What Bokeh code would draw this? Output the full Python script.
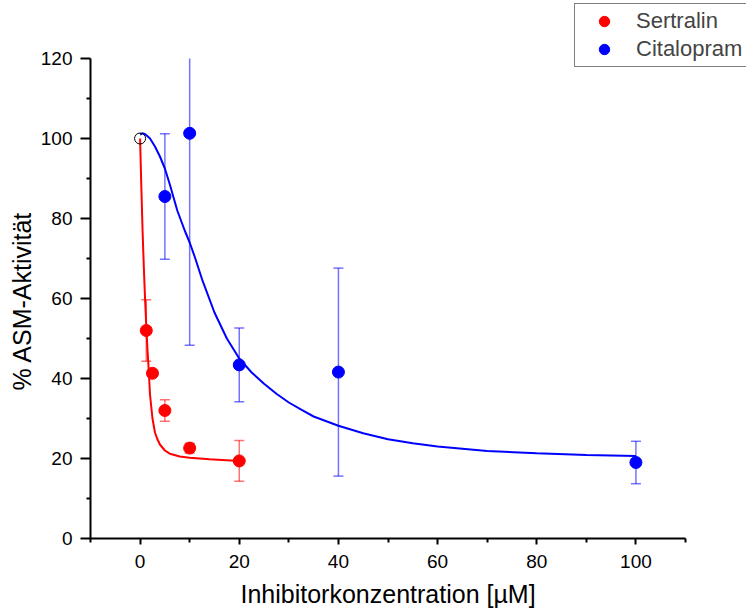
from bokeh.plotting import figure
from bokeh.models import Range1d, FixedTicker, Legend, LegendItem, Title
from bokeh.embed import file_html
from bokeh.resources import INLINE

# ---- data ----
sert_x = [1.25, 2.5, 5, 10, 20]
sert_y = [52.0, 41.3, 32.0, 22.6, 19.4]
sert_err = [7.7, 0.8, 2.7, 1.2, 5.1]

cit_x = [5, 10, 20, 40, 100]
cit_y = [85.5, 101.3, 43.4, 41.6, 19.0]
cit_err = [15.7, 53.0, 9.2, 26.0, 5.3]

ctrl_x = [0]
ctrl_y = [100]

# fitted curves
sert_fit_x = [0, 0.25, 0.5, 0.75, 1.0, 1.25, 1.5, 1.75, 2.0, 2.5, 3.0, 3.5, 4.0, 5.0, 6.0, 8.0, 10.0, 14.0, 20.0]
sert_fit_y = [100, 88, 77, 68, 60, 53, 47, 42, 36, 30, 26.5, 24.8, 23.5, 22.0, 21.2, 20.5, 20.2, 19.8, 19.4]

cit_fit_x = [0, 0.5, 1, 2, 3, 4, 5, 6, 7.5, 9, 10, 11, 12.5, 15, 17.5, 20, 22.5, 25, 27.5, 30, 32.5,
             35, 40, 45, 50, 55, 60, 70, 80, 90, 100]
cit_fit_y = [101.0, 101.3, 101.1, 100.0, 98.0, 95.5, 92.5, 88.5, 82.0, 77.0, 74.0, 70.5, 64.8, 56.5,
             50.0, 45.0, 41.5, 38.7, 36.2, 34.0, 32.2, 30.5, 28.2, 26.3, 24.8, 23.8, 23.0, 21.9,
             21.3, 20.9, 20.6]

x_axis_span = (-10, 110)
y_axis_span = (0, 120)
x_major = [0, 20, 40, 60, 80, 100]
x_minor = [-10, 10, 30, 50, 70, 90, 110]
y_major = [0, 20, 40, 60, 80, 100, 120]
y_minor = [10, 30, 50, 70, 90, 110]

x_title = "Inhibitorkonzentration [µM]"
y_title = "% ASM-Aktivität"

FONT = "Liberation Sans"
RED = "#ff0000"
BLUE = "#0000ff"

# frame reaches the top/right canvas edges so the legend can sit there;
# the axes are bounded to the reference's spans
p = figure(width=746, height=614, x_range=Range1d(-10, 122.3), y_range=Range1d(0, 134.5),
           output_backend="svg", toolbar_location=None, min_border=0,
           min_border_left=90, min_border_right=0, min_border_top=0, min_border_bottom=76)
p.outline_line_color = None
p.grid.visible = False
p.background_fill_color = "white"
p.border_fill_color = "white"

# curves
p.line(sert_fit_x, sert_fit_y, line_color=RED, line_width=2)
p.line(cit_fit_x, cit_fit_y, line_color=BLUE, line_width=2)

# error bars (clipped at the top of the value axis, as in the reference)
ytop = y_axis_span[1]
def errbars(xs, ys, es, color):
    lo = [y - e for y, e in zip(ys, es)]
    hi = [y + e for y, e in zip(ys, es)]
    hi_c = [min(h, ytop) for h in hi]
    p.segment(x0=xs, y0=lo, x1=xs, y1=hi_c, line_color=color, line_alpha=0.55, line_width=1.5)
    cx = list(xs) + [x for x, h in zip(xs, hi) if h <= ytop]
    cy = lo + [h for h in hi if h <= ytop]
    p.scatter(x=cx, y=cy, marker="dash", size=10, line_color=color,
              line_alpha=0.55, line_width=1.5)

errbars(sert_x, sert_y, sert_err, RED)
errbars(cit_x, cit_y, cit_err, BLUE)

# points
r_s = p.scatter(sert_x, sert_y, marker="circle", size=12, fill_color=RED, line_color=RED)
r_c = p.scatter(cit_x, cit_y, marker="circle", size=12, fill_color=BLUE, line_color=BLUE)
p.scatter(ctrl_x, ctrl_y, marker="circle", size=11, fill_color=None, line_color="black", line_width=1)

# axes
for ax in (p.xaxis[0], p.yaxis[0]):
    ax.axis_line_width = 2
    ax.major_tick_line_width = 2
    ax.minor_tick_line_width = 2
    ax.major_tick_in = 0
    ax.minor_tick_in = 0
    ax.major_label_text_font = FONT
    ax.major_label_text_font_size = "19px"
    ax.major_label_text_color = "black"
    ax.axis_label = None

p.xaxis.bounds = x_axis_span
p.yaxis.bounds = y_axis_span
p.xaxis.ticker = FixedTicker(ticks=x_major, minor_ticks=x_minor)
p.yaxis.ticker = FixedTicker(ticks=y_major, minor_ticks=y_minor)
p.xaxis.major_tick_out = 6
p.xaxis.minor_tick_out = 4
p.yaxis.major_tick_out = 10
p.yaxis.minor_tick_out = 4
p.xaxis.major_label_standoff = 10
p.yaxis.major_label_standoff = 8

# axis titles, centred on the bounded axes
tx = Title(text=x_title, align="left", offset=150, vertical_align="bottom", standoff=14,
           text_font=FONT, text_font_size="25px", text_font_style="normal", text_color="black",
           text_line_height=0.8)
ty = Title(text=y_title, align="left", offset=148, vertical_align="bottom", standoff=4,
           text_font=FONT, text_font_size="25px", text_font_style="normal", text_color="black")
p.add_layout(tx, "below")
p.add_layout(ty, "left")

legend = Legend(items=[LegendItem(label="Sertralin", renderers=[r_s]),
                       LegendItem(label="Citalopram", renderers=[r_c])],
                location=(484, 471.5))
legend.label_text_font = FONT
legend.label_text_font_size = "22px"
legend.label_height = 26
legend.glyph_height = 26
legend.glyph_width = 50
legend.label_standoff = 7
legend.padding = 4
legend.spacing = 2
legend.margin = 0
legend.border_line_color = "black"
legend.border_line_width = 1
legend.background_fill_color = "white"
legend.background_fill_alpha = 1
p.add_layout(legend)

open("out.html", "w").write(file_html(p, INLINE))
